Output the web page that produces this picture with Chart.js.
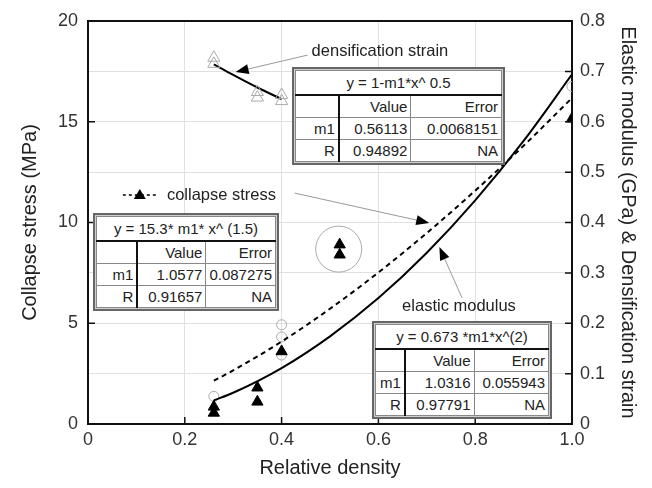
<!DOCTYPE html>
<html>
<head>
<meta charset="utf-8">
<script src="https://cdn.jsdelivr.net/npm/chart.js@4.4.1/dist/chart.umd.min.js"></script>
<style>
    body { margin: 0; background: #fff; }
    #wrap { position: relative; width: 652px; height: 488px; }
    #chart { position: absolute; left: 0; top: 0; }
    .fit {
        position: absolute;
        border: 2px solid #666;
        padding: 1px;
        background: #cfcfcf;
        font-family: "Liberation Sans", Arial, sans-serif;
        font-size: 15px;
        color: #222;
    }
    .fit table {
        border-collapse: collapse;
        background: #fff;
        width: 100%;
        border: 1px solid #555;
    }
    .fit td {
        border: 1px solid #888;
        text-align: right;
        padding: 0 3px;
        height: 21px;
        line-height: 19px;
        white-space: nowrap;
    }
    .fit td.head { text-align: center; height: 23px; border-bottom: 2px solid #111; }
    .fit td.c1 { border-right: 2px solid #111; }
</style>
</head>
<body>
<div id="wrap">
    <canvas id="chart" width="652" height="488"></canvas>
</div>
<script>
// 崩壊応力 (MPa, 左軸)
const collapseX = [0.26, 0.26, 0.35, 0.35, 0.40, 0.52, 0.52, 1.0];
const collapseY = [0.85, 0.55, 1.8, 1.1, 3.6, 8.9, 8.4, 15.15];
// 弾性率 (GPa, 右軸)
const modulusX = [0.26, 0.40, 0.40, 0.40, 1.0];
const modulusY = [0.055, 0.197, 0.173, 0.137, 0.67];
// 緻密化ひずみ (右軸)
const densX = [0.26, 0.26, 0.35, 0.35, 0.40, 0.40];
const densY = [0.727, 0.715, 0.659, 0.648, 0.653, 0.641];

// フィット曲線
const fitX = [0.26, 0.3, 0.4, 0.5, 0.6, 0.7, 0.8, 0.9, 1.0];
const collapseFitY = [2.15, 2.66, 4.09, 5.72, 7.52, 9.48, 11.58, 13.81, 16.18];
const modulusFitY = [0.047, 0.062, 0.111, 0.174, 0.250, 0.340, 0.444, 0.562, 0.694];
const densFitX = [0.26, 0.3, 0.35, 0.4];
const densFitY = [0.714, 0.693, 0.668, 0.645];

// 軸目盛
const xTicks = [0, 0.2, 0.4, 0.6, 0.8, 1];
const leftTicks = [0, 5, 10, 15, 20];
const rightTicks = [0, 0.1, 0.2, 0.3, 0.4, 0.5, 0.6, 0.7, 0.8];

// フィット結果の表
const fitTables = [
    { title: 'y = 1-m1*x^ 0.5', m1: ['0.56113', '0.0068151'], r: ['0.94892', 'NA'],
      box: [292, 67, 213], cols: [46, 74, 93] },
    { title: 'y = 15.3* m1* x^ (1.5)', m1: ['1.0577', '0.087275'], r: ['0.91657', 'NA'],
      box: [93, 213, 186], cols: [49, 73, 64] },
    { title: 'y = 0.673 *m1*x^(2)', m1: ['1.0316', '0.055943'], r: ['0.97791', 'NA'],
      box: [372, 321, 180], cols: [30, 73, 77] }
];

const FONT = '"Liberation Sans", Arial, sans-serif';

// 点の配列を作成
function toPoints(xs, ys) {
    return xs.map(function(x, i) { return { x: x, y: ys[i] }; });
}

// 矢印と注記 (データ座標)
const arrows = [
    { from: [0.454, 18.31], to: [0.305, 17.47] },
    { from: [0.427, 11.46], to: [0.705, 9.98] },
    { from: [0.773, 6.25], to: [0.726, 8.78] }
];
const notes = [
    { text: 'densification strain', at: [0.462, 18.5] },
    { text: 'collapse stress', at: [0.163, 11.36] },
    { text: 'elastic modulus', at: [0.649, 5.81] }
];

const annotatePlugin = {
    id: 'annotate',
    afterDatasetsDraw(chart) {
        const ctx = chart.ctx;
        const sx = chart.scales.x, sy = chart.scales.y, sr = chart.scales.y1;
        const a = chart.chartArea;
        ctx.save();
        // 上枠
        ctx.strokeStyle = '#111';
        ctx.lineWidth = 2;
        ctx.beginPath();
        ctx.moveTo(a.left, a.top);
        ctx.lineTo(a.right, a.top);
        ctx.stroke();
        // 内向きの目盛
        ctx.lineWidth = 1.5;
        ctx.beginPath();
        xTicks.forEach(function(v) {
            const p = sx.getPixelForValue(v);
            ctx.moveTo(p, a.bottom); ctx.lineTo(p, a.bottom - 7);
        });
        leftTicks.forEach(function(v) {
            const p = sy.getPixelForValue(v);
            ctx.moveTo(a.left, p); ctx.lineTo(a.left + 7, p);
        });
        rightTicks.forEach(function(v) {
            const p = sr.getPixelForValue(v);
            ctx.moveTo(a.right, p); ctx.lineTo(a.right - 7, p);
        });
        ctx.stroke();

        // 円
        ctx.strokeStyle = '#aaa';
        ctx.lineWidth = 1;
        ctx.beginPath();
        ctx.arc(sx.getPixelForValue(0.518), sy.getPixelForValue(8.68), 23, 0, Math.PI * 2);
        ctx.stroke();

        // 矢印
        arrows.forEach(function(ar) {
            const x1 = sx.getPixelForValue(ar.from[0]), y1 = sy.getPixelForValue(ar.from[1]);
            const x2 = sx.getPixelForValue(ar.to[0]), y2 = sy.getPixelForValue(ar.to[1]);
            const ang = Math.atan2(y2 - y1, x2 - x1);
            ctx.strokeStyle = '#999';
            ctx.lineWidth = 1;
            ctx.beginPath();
            ctx.moveTo(x1, y1);
            ctx.lineTo(x2 - Math.cos(ang) * 8, y2 - Math.sin(ang) * 8);
            ctx.stroke();
            ctx.fillStyle = '#000';
            ctx.beginPath();
            ctx.moveTo(x2, y2);
            ctx.lineTo(x2 - Math.cos(ang) * 13 + Math.sin(ang) * 5, y2 - Math.sin(ang) * 13 - Math.cos(ang) * 5);
            ctx.lineTo(x2 - Math.cos(ang) * 13 - Math.sin(ang) * 5, y2 - Math.sin(ang) * 13 + Math.cos(ang) * 5);
            ctx.closePath();
            ctx.fill();
        });

        // 注記テキスト
        ctx.fillStyle = '#222';
        ctx.font = '16.5px ' + FONT;
        ctx.textAlign = 'left';
        ctx.textBaseline = 'middle';
        notes.forEach(function(n) {
            ctx.fillText(n.text, sx.getPixelForValue(n.at[0]), sy.getPixelForValue(n.at[1]));
        });

        // 凡例サンプル (--▲--)
        const ly = sy.getPixelForValue(11.36);
        ctx.strokeStyle = '#000';
        ctx.lineWidth = 1.5;
        ctx.setLineDash([3, 3]);
        ctx.beginPath();
        ctx.moveTo(sx.getPixelForValue(0.072), ly);
        ctx.lineTo(sx.getPixelForValue(0.142), ly);
        ctx.stroke();
        ctx.setLineDash([]);
        const tx = sx.getPixelForValue(0.107);
        ctx.fillStyle = '#000';
        ctx.beginPath();
        ctx.moveTo(tx, ly - 6);
        ctx.lineTo(tx + 6, ly + 4);
        ctx.lineTo(tx - 6, ly + 4);
        ctx.closePath();
        ctx.fill();
        ctx.restore();
    }
};

// グラフを作成
function createChart() {
    const ctx = document.getElementById('chart').getContext('2d');
    new Chart(ctx, {
        type: 'scatter',
        data: {
            datasets: [
                {
                    type: 'line', label: 'collapse fit', data: toPoints(fitX, collapseFitY),
                    yAxisID: 'y', borderColor: '#000', borderWidth: 2, borderDash: [5, 4],
                    pointRadius: 0, fill: false, cubicInterpolationMode: 'monotone', order: 2
                },
                {
                    type: 'line', label: 'modulus fit', data: toPoints(fitX, modulusFitY),
                    yAxisID: 'y1', borderColor: '#000', borderWidth: 2,
                    pointRadius: 0, fill: false, cubicInterpolationMode: 'monotone', order: 2
                },
                {
                    type: 'line', label: 'densification fit', data: toPoints(densFitX, densFitY),
                    yAxisID: 'y1', borderColor: '#000', borderWidth: 2,
                    pointRadius: 0, fill: false, cubicInterpolationMode: 'monotone', order: 2
                },
                {
                    label: 'elastic modulus', data: toPoints(modulusX, modulusY), yAxisID: 'y1',
                    pointStyle: 'circle', pointRadius: 5, borderWidth: 1,
                    borderColor: '#aaa', backgroundColor: 'rgba(0,0,0,0)', order: 3
                },
                {
                    label: 'densification strain', data: toPoints(densX, densY), yAxisID: 'y1',
                    pointStyle: 'triangle', pointRadius: 7, borderWidth: 1,
                    borderColor: '#aaa', backgroundColor: 'rgba(0,0,0,0)', order: 1
                },
                {
                    label: 'collapse stress', data: toPoints(collapseX, collapseY), yAxisID: 'y',
                    pointStyle: 'triangle', pointRadius: 6.5, borderWidth: 1,
                    borderColor: '#000', backgroundColor: '#000', order: 1
                }
            ]
        },
        options: {
            responsive: false,
            animation: false,
            layout: { padding: { top: 21 } },
            plugins: { legend: { display: false }, tooltip: { enabled: false } },
            scales: {
                x: {
                    type: 'linear', min: 0, max: 1,
                    afterFit: function(s) { s.height = 64; },
                    afterBuildTicks: function(s) { s.ticks = xTicks.map(function(v) { return { value: v }; }); },
                    ticks: { color: '#333', font: { family: FONT, size: 18 }, padding: 5, maxRotation: 0 },
                    grid: { color: '#e0e0e0', drawTicks: false },
                    border: { color: '#111', width: 2 },
                    title: { display: true, text: 'Relative density', color: '#222',
                             font: { family: FONT, size: 20 }, padding: { top: 0, bottom: 8 } }
                },
                y: {
                    position: 'left', min: 0, max: 20,
                    afterFit: function(s) { s.width = 88; },
                    afterBuildTicks: function(s) {
                        s.ticks = rightTicks.map(function(v) { return { value: v * 25 }; });
                    },
                    ticks: {
                        color: '#333', font: { family: FONT, size: 18 }, padding: 10,
                        callback: function(v) { return leftTicks.indexOf(v) >= 0 ? String(v) : ''; }
                    },
                    grid: { color: '#e0e0e0', drawTicks: false },
                    border: { color: '#111', width: 2 },
                    title: { display: true, text: 'Collapse stress (MPa)', color: '#222',
                             font: { family: FONT, size: 20 }, padding: { top: 18, bottom: 0 } }
                },
                y1: {
                    position: 'right', min: 0, max: 0.8,
                    afterFit: function(s) { s.width = 80; },
                    afterBuildTicks: function(s) { s.ticks = rightTicks.map(function(v) { return { value: v }; }); },
                    ticks: {
                        color: '#333', font: { family: FONT, size: 18 }, padding: 8,
                        callback: function(v) { return String(Number(v.toFixed(1))); }
                    },
                    grid: { drawOnChartArea: false, drawTicks: false },
                    border: { color: '#111', width: 2 },
                    title: { display: true, text: 'Elastic modulus (GPa) & Densification strain', color: '#222',
                             font: { family: FONT, size: 20 }, padding: { top: 12, bottom: 0 } }
                }
            }
        },
        plugins: [annotatePlugin]
    });
}

// 表を作成
function createTables() {
    const wrap = document.getElementById('wrap');
    fitTables.forEach(function(t) {
        const div = document.createElement('div');
        div.className = 'fit';
        div.style.left = t.box[0] + 'px';
        div.style.top = t.box[1] + 'px';
        div.style.width = (t.box[2] - 6) + 'px';
        let html = '<table><colgroup>';
        t.cols.forEach(function(w) { html += '<col style="width:' + w + 'px">'; });
        html += '</colgroup>';
        html += '<tr><td class="head" colspan="3">' + t.title + '</td></tr>';
        html += '<tr><td class="c1"></td><td>Value</td><td>Error</td></tr>';
        html += '<tr><td class="c1">m1</td><td>' + t.m1[0] + '</td><td>' + t.m1[1] + '</td></tr>';
        html += '<tr><td class="c1">R</td><td>' + t.r[0] + '</td><td>' + t.r[1] + '</td></tr>';
        html += '</table>';
        div.innerHTML = html;
        wrap.appendChild(div);
    });
}

createChart();
createTables();
</script>
</body>
</html>
